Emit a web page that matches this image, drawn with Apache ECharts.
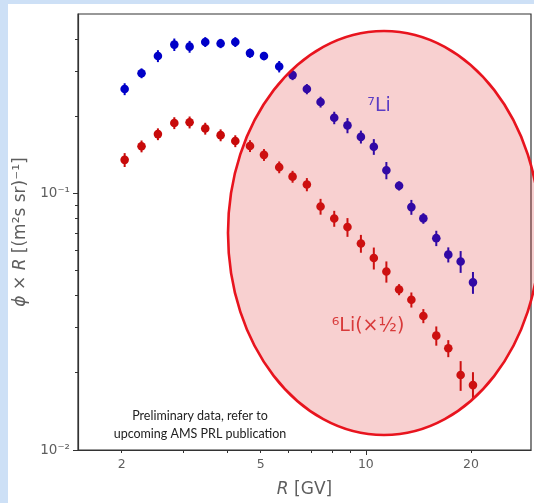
<!DOCTYPE html>
<html><head><meta charset="utf-8">
<script src="https://cdn.jsdelivr.net/npm/echarts@6/dist/echarts.min.js"></script>
<style>html,body{margin:0;padding:0;background:#fff}#c{width:534px;height:503px}</style>
</head><body><div id="c"></div>
<script>
// Rigidity bin centres [GV]
const rigidity = [2.04, 2.28, 2.54, 2.83, 3.13, 3.47, 3.84, 4.23, 4.66, 5.11, 5.65, 6.17, 6.78, 7.42, 8.12, 8.86, 9.68, 10.54, 11.45, 12.45, 13.50, 14.61, 15.91, 17.22, 18.68, 20.26];
// 7Li flux x R
const li7 = [0.255, 0.294, 0.343, 0.380, 0.373, 0.389, 0.384, 0.389, 0.352, 0.343, 0.312, 0.289, 0.255, 0.227, 0.197, 0.184, 0.166, 0.152, 0.123, 0.107, 0.0884, 0.0799, 0.0669, 0.0577, 0.0543, 0.0450];
const li7Err = [0.0136, 0.0130, 0.0183, 0.0212, 0.0198, 0.0172, 0.0160, 0.0172, 0.0146, 0.0128, 0.0160, 0.0128, 0.0117, 0.0110, 0.0110, 0.0125, 0.0096, 0.0107, 0.0095, 0.0044, 0.0059, 0.0038, 0.0046, 0.0039, 0.0053, 0.0044];
// 6Li flux x R (x 1/2)
const li6 = [0.1351, 0.1526, 0.1702, 0.1880, 0.1892, 0.1789, 0.1686, 0.1599, 0.1530, 0.1413, 0.1265, 0.1162, 0.1083, 0.0889, 0.0798, 0.0739, 0.0638, 0.0560, 0.0496, 0.0422, 0.0385, 0.0333, 0.0279, 0.0249, 0.0196, 0.0179];
const li6Err = [0.0084, 0.0081, 0.0090, 0.0100, 0.0101, 0.0095, 0.0090, 0.0085, 0.0081, 0.0075, 0.0067, 0.0062, 0.0064, 0.0063, 0.0057, 0.0062, 0.0051, 0.0055, 0.0047, 0.0021, 0.0026, 0.0021, 0.0024, 0.0019, 0.0026, 0.0022];
// ticks
const xLabelValues = [2, 5, 10, 20];
const xMajorTicks = [10];
const xMinorTicks = [2, 3, 4, 5, 6, 7, 8, 9, 20];
const yLabelValues = [0.01, 0.1];
const yLabelTexts = ['10⁻²', '10⁻¹'];
const yMajorTicks = [0.01, 0.1];
const yMinorTicks = [0.02, 0.03, 0.04, 0.05, 0.06, 0.07, 0.08, 0.09, 0.2, 0.3, 0.4];

const X_MIN = 1.5, X_MAX = 29.7, Y_MIN = 0.01, Y_MAX = 0.5;
const AX = '#333';
const LBL = '#5e5e5e';
const FONT = '"DejaVu Sans", sans-serif';

function build(vals, errs) {
  return rigidity.map((r, i) => [r, vals[i], vals[i] - errs[i], vals[i] + errs[i]]);
}
function errSeries(name, data, color) {
  return {
    type: 'custom', name: name, data: data, clip: true,
    xAxisIndex: 0, yAxisIndex: 0,
    encode: { x: 0, y: [1, 2, 3] },
    renderItem: function (params, api) {
      const x = api.value(0);
      const p = api.coord([x, api.value(1)]);
      const lo = api.coord([x, api.value(2)]);
      const hi = api.coord([x, api.value(3)]);
      return {
        type: 'group',
        children: [
          { type: 'line', shape: { x1: p[0], y1: lo[1], x2: p[0], y2: hi[1] }, style: { stroke: color, lineWidth: 2 } },
          { type: 'circle', shape: { cx: p[0], cy: p[1], r: 4.3 }, style: { fill: color } }
        ]
      };
    }
  };
}
function xAxisCfg(ticks, len, main) {
  return {
    type: 'log', logBase: 10, min: X_MIN, max: X_MAX, position: 'bottom',
    axisLine: { show: main, lineStyle: { color: AX, width: 1.2 } },
    splitLine: { show: false }, minorTick: { show: false },
    axisTick: { show: true, inside: false, length: len, customValues: ticks, lineStyle: { color: AX, width: 1 } },
    axisLabel: main ? { show: true, customValues: xLabelValues, color: LBL, fontSize: 12.5, fontFamily: FONT, margin: 8, formatter: v => String(Math.round(v)) } : { show: false },
    name: main ? '{i|R} [GV]' : '',
    nameLocation: 'middle', nameGap: 31,
    nameTextStyle: { color: LBL, fontSize: 17, fontFamily: FONT, rich: { i: { fontStyle: 'italic', fontSize: 17, color: LBL, fontFamily: FONT } } }
  };
}
function yAxisCfg(ticks, len, main) {
  return {
    type: 'log', logBase: 10, min: Y_MIN, max: Y_MAX, position: 'left',
    axisLine: { show: main, lineStyle: { color: AX, width: 1.2 } },
    splitLine: { show: false }, minorTick: { show: false },
    axisTick: { show: true, inside: false, length: len, customValues: ticks, lineStyle: { color: AX, width: 1 } },
    axisLabel: main ? { show: true, customValues: yLabelValues, color: LBL, fontSize: 13.5, fontFamily: FONT, margin: 8,
      formatter: v => { const i = yLabelValues.findIndex(t => Math.abs(t - v) / t < 1e-6); return i >= 0 ? yLabelTexts[i] : ''; } } : { show: false },
    name: main ? '{i|ϕ} × {i|R} [(m²s sr)⁻¹]' : '',
    nameLocation: 'middle', nameGap: 44, nameRotate: 90,
    nameTextStyle: { color: LBL, fontSize: 17, fontFamily: FONT, rich: { i: { fontStyle: 'italic', fontSize: 17, color: LBL, fontFamily: FONT } } }
  };
}

const chart = echarts.init(document.getElementById('c'), null, { renderer: 'canvas' });
chart.setOption({
  backgroundColor: '#ffffff',
  animation: false,
  grid: { left: 78, right: 3, top: 14, bottom: 48, show: true, borderColor: AX, borderWidth: 1.2, backgroundColor: 'transparent' },
  xAxis: [xAxisCfg(xMajorTicks, 5, true), xAxisCfg(xMinorTicks, 3, false)],
  yAxis: [yAxisCfg(yMajorTicks, 5, true), yAxisCfg(yMinorTicks, 3, false)],
  series: [
    errSeries('7Li', build(li7, li7Err), '#0000c8'),
    errSeries('6Li', build(li6, li6Err), '#c80a0a')
  ],
  graphic: [
    { type: 'rect', z: 0, shape: { x: 0, y: 0, width: 534, height: 4 }, style: { fill: '#cde0f6' } },
    { type: 'rect', z: 0, shape: { x: 0, y: 0, width: 8, height: 503 }, style: { fill: '#cde0f6' } },
    { type: 'ellipse', z: 100, shape: { cx: 384, cy: 233, rx: 156, ry: 202 },
      style: { fill: 'rgba(225,40,40,0.22)', stroke: '#e8141e', lineWidth: 2.6 } },
    { type: 'text', z: 101, x: 379, y: 106, style: { text: '⁷Li', fill: '#5a3cc4', fontSize: 19, fontFamily: FONT, align: 'center', verticalAlign: 'middle' } },
    { type: 'text', z: 101, x: 368, y: 326, style: { text: '⁶Li(×½)', fill: '#d83a3a', fontSize: 19, fontFamily: FONT, align: 'center', verticalAlign: 'middle' } },
    { type: 'text', z: 101, x: 200, y: 416, style: { text: 'Preliminary data, refer to', fill: '#222', fontSize: 12.5, fontFamily: 'Lato, "Open Sans", sans-serif', align: 'center', verticalAlign: 'middle' } },
    { type: 'text', z: 101, x: 200, y: 434, style: { text: 'upcoming AMS PRL publication', fill: '#222', fontSize: 12.5, fontFamily: 'Lato, "Open Sans", sans-serif', align: 'center', verticalAlign: 'middle' } }
  ]
});
</script></body></html>
